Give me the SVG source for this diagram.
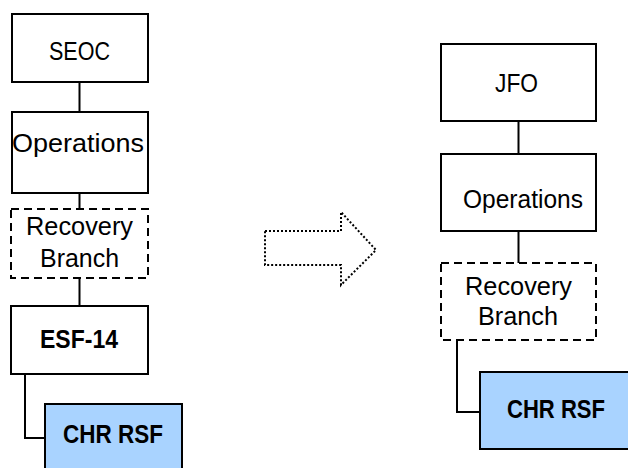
<svg xmlns="http://www.w3.org/2000/svg" width="628" height="468" viewBox="0 0 628 468">
  <style>
    .box { fill: #ffffff; stroke: #000000; stroke-width: 2; }
    .dash { fill: #ffffff; stroke: #000000; stroke-width: 2; stroke-dasharray: 8 5; }
    .rsf { fill: #a9d3ff; stroke: #000000; stroke-width: 2; }
    .lbl { font-family: "Liberation Sans", Arial, sans-serif; font-size: 26.5px; fill: #000000; text-anchor: middle; }
    .bold { font-weight: bold; }
    .link { fill: none; stroke: #000000; stroke-width: 2; }
    .move { fill: #ffffff; stroke: #000000; stroke-width: 2; stroke-dasharray: 2 2; }
  </style>
  <rect width="628" height="468" fill="#ffffff"/>

  <!-- connectors -->
  <g id="connectors">
    <line class="link" x1="79.5" y1="82" x2="79.5" y2="112"/>
    <line class="link" x1="79.5" y1="193" x2="79.5" y2="209"/>
    <line class="link" x1="79.5" y1="278" x2="79.5" y2="306"/>
    <polyline class="link" points="25,374 25,438 45,438"/>
    <line class="link" x1="518.5" y1="121" x2="518.5" y2="154"/>
    <line class="link" x1="518.5" y1="231" x2="518.5" y2="263"/>
    <polyline class="link" points="457,340 457,412 480,412"/>
  </g>

  <!-- left column: state structure -->
  <g id="seoc">
    <rect class="box" x="12" y="14" width="136" height="68"/>
    <text class="lbl" x="79.5" y="59.5" textLength="61" lengthAdjust="spacingAndGlyphs">SEOC</text>
  </g>
  <g id="operations-left">
    <rect class="box" x="12" y="112" width="136" height="81"/>
    <text class="lbl" x="78" y="152" textLength="132" lengthAdjust="spacingAndGlyphs">Operations</text>
  </g>
  <g id="recovery-left">
    <rect class="dash" x="11" y="209" width="137" height="69"/>
    <text class="lbl" x="79.5" y="235" textLength="107" lengthAdjust="spacingAndGlyphs">Recovery</text>
    <text class="lbl" x="79.5" y="267" textLength="79" lengthAdjust="spacingAndGlyphs">Branch</text>
  </g>
  <g id="esf14">
    <rect class="box" x="11" y="306" width="137" height="68"/>
    <text class="lbl bold" x="79" y="348" textLength="78" lengthAdjust="spacingAndGlyphs">ESF-14</text>
  </g>
  <g id="chr-rsf-left">
    <rect class="rsf" x="45" y="404" width="137" height="80"/>
    <text class="lbl bold" x="113" y="443" textLength="100" lengthAdjust="spacingAndGlyphs">CHR RSF</text>
  </g>

  <!-- transition arrow -->
  <g id="transition">
    <path class="move" d="M265,231 L341,231 L341,212 L376,250 L341,285 L341,265 L265,265 Z"/>
  </g>

  <!-- right column: joint field office structure -->
  <g id="jfo">
    <rect class="box" x="441" y="44" width="155" height="77"/>
    <text class="lbl" x="516.5" y="92" textLength="43" lengthAdjust="spacingAndGlyphs">JFO</text>
  </g>
  <g id="operations-right">
    <rect class="box" x="441" y="154" width="155" height="77"/>
    <text class="lbl" x="523" y="208" textLength="120" lengthAdjust="spacingAndGlyphs">Operations</text>
  </g>
  <g id="recovery-right">
    <rect class="dash" x="441" y="263" width="155" height="77"/>
    <text class="lbl" x="518.5" y="295" textLength="107" lengthAdjust="spacingAndGlyphs">Recovery</text>
    <text class="lbl" x="518" y="325" textLength="80" lengthAdjust="spacingAndGlyphs">Branch</text>
  </g>
  <g id="chr-rsf-right">
    <rect class="rsf" x="480" y="372" width="160" height="77"/>
    <text class="lbl bold" x="556" y="418" textLength="98" lengthAdjust="spacingAndGlyphs">CHR RSF</text>
  </g>
</svg>
